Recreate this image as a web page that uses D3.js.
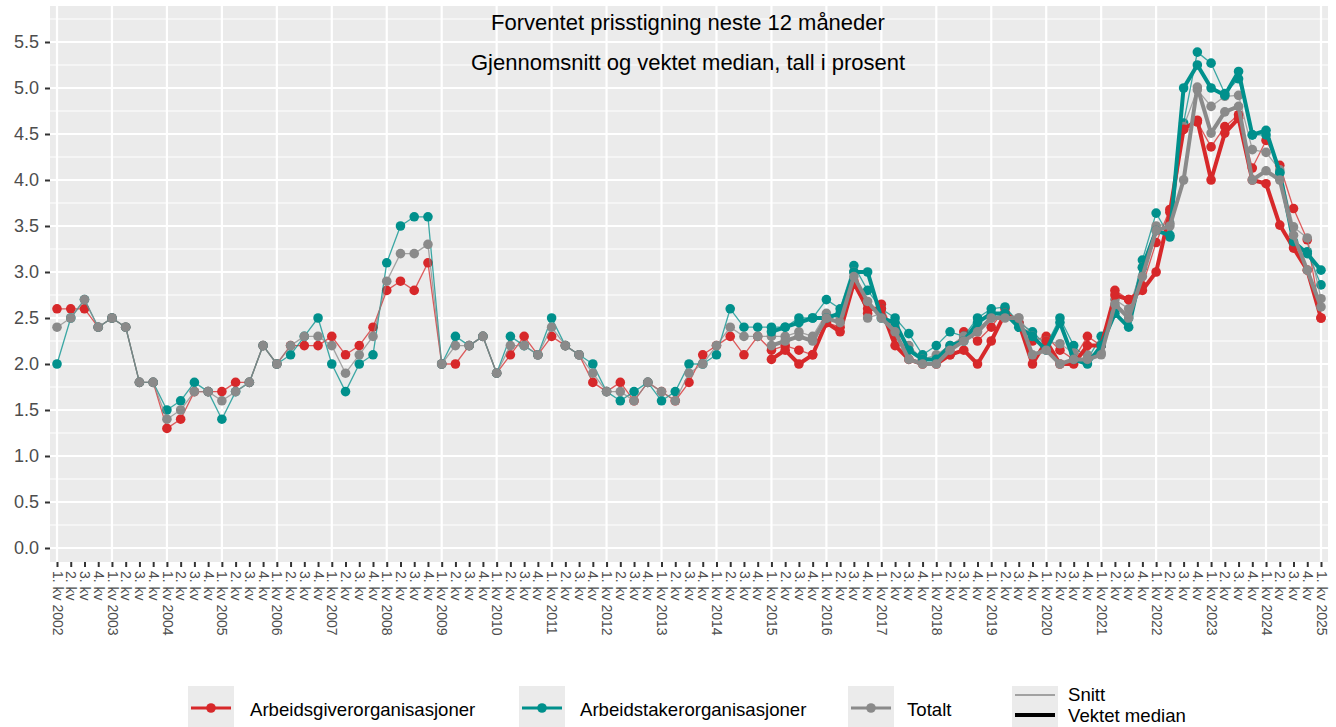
<!DOCTYPE html>
<html><head><meta charset="utf-8">
<script src="https://cdn.jsdelivr.net/npm/d3@7"></script>
<style>body{margin:0;background:#fff}svg{display:block;font-family:"Liberation Sans",Arial,sans-serif}</style>
</head><body><svg id="c" width="1336" height="727"></svg>
<script>
const years = d3.range(2002, 2026);
const quarters = [];
years.forEach(y => { for (let q = 1; q <= 4; q++) { if (y === 2025 && q > 1) break; quarters.push({y, q}); } });
const qLabels = quarters.map(d => d.q === 1 ? `${d.q}. kv ${d.y}` : `${d.q}. kv`);

// Snitt (average)
const snittArbeidsgiver = [2.6,2.6,2.6,2.4,2.5,2.4,1.8,1.8, 1.3,1.4,1.7,1.7,1.7,1.8,1.8,2.2, 2.0,2.2,2.2,2.2,2.3,2.1,2.2,2.4,
 2.8,2.9,2.8,3.1,2.0,2.0,2.2,2.3, 1.9,2.1,2.3,2.1,2.3,2.2,2.1,1.8, 1.7,1.8,1.6,1.8,1.7,1.6,1.8,2.1, 2.2,2.3,2.1,2.3,
 2.15,2.2,2.15,2.1,2.45,2.4,2.9,2.55, 2.65,2.3,2.15,2.05,2.05,2.1,2.35,2.25, 2.4,2.6,2.45,2.25,2.3,2.15,2.05,2.3,
 2.2,2.8,2.7,2.85,3.32,3.68,4.55,4.63, 4.36,4.58,4.71,4.13,4.43,4.16,3.69,3.35,2.5];
const snittArbeidstaker = [2.0,2.5,2.7,2.4,2.5,2.4,1.8,1.8, 1.5,1.6,1.8,1.7,1.4,1.7,1.8,2.2, 2.0,2.1,2.3,2.5,2.0,1.7,2.0,2.1,
 3.1,3.5,3.6,3.6,2.0,2.3,2.2,2.3, 1.9,2.3,2.2,2.1,2.5,2.2,2.1,2.0, 1.7,1.6,1.7,1.8,1.6,1.7,2.0,2.0, 2.1,2.6,2.4,2.4,
 2.4,2.4,2.5,2.5,2.7,2.6,3.07,2.8, 2.6,2.5,2.33,2.1,2.2,2.35,2.3,2.5, 2.6,2.62,2.45,2.35,2.2,2.5,2.2,2.05,
 2.3,2.62,2.5,3.13,3.64,3.38,4.62,5.39, 5.27,4.94,5.1,4.49,4.49,4.08,3.31,3.22,2.86];
const snittTotalt = [2.4,2.5,2.7,2.4,2.5,2.4,1.8,1.8, 1.4,1.5,1.7,1.7,1.6,1.7,1.8,2.2, 2.0,2.2,2.3,2.3,2.2,1.9,2.1,2.3,
 2.9,3.2,3.2,3.3,2.0,2.2,2.2,2.3, 1.9,2.2,2.2,2.1,2.4,2.2,2.1,1.9, 1.7,1.7,1.6,1.8,1.7,1.6,1.9,2.0, 2.2,2.4,2.3,2.3,
 2.3,2.3,2.35,2.3,2.55,2.5,3.0,2.5, 2.55,2.4,2.2,2.05,2.1,2.2,2.3,2.38, 2.5,2.55,2.5,2.3,2.25,2.22,2.12,2.1,
 2.12,2.7,2.6,3.05,3.5,3.53,4.58,4.98, 4.8,4.91,4.92,4.33,4.3,4.11,3.49,3.37,2.71];

// Vektet median (weighted median), from 1. kv 2015
const medianStart = 52;
const medianArbeidsgiver = [2.05,2.15,2.0,2.1,2.45,2.35,2.88,2.6, 2.6,2.2,2.05,2.0,2.0,2.1,2.15,2.0, 2.25,2.55,2.45,2.0,2.25,2.0,2.0,2.2,
 2.2,2.75,2.7,2.8,3.0,3.65,4.55,4.65, 4.0,4.51,4.67,4.0,3.96,3.51,3.26,3.02,2.5];
const medianArbeidstaker = [2.35,2.4,2.45,2.5,2.5,2.55,3.0,3.0, 2.5,2.45,2.15,2.05,2.05,2.2,2.25,2.45, 2.55,2.55,2.4,2.3,2.15,2.45,2.05,2.0,
 2.2,2.55,2.4,3.05,3.45,3.4,5.0,5.25, 5.0,4.92,5.18,4.49,4.54,4.08,3.33,3.2,3.02];
const medianTotalt = [2.2,2.25,2.3,2.25,2.5,2.45,2.95,2.68, 2.5,2.35,2.05,2.0,2.0,2.15,2.25,2.35, 2.5,2.5,2.5,2.1,2.15,2.0,2.05,2.05,
 2.1,2.65,2.5,2.95,3.45,3.5,4.0,5.01, 4.51,4.74,4.8,4.0,4.1,4.0,3.4,3.02,2.62];

const seriesNames = ["Arbeidsgiverorganisasjoner","Arbeidstakerorganisasjoner","Totalt"];
const seriesColors = ["#d7282a","#00908c","#8a8a8a"];
const yTicks = [0,0.5,1,1.5,2,2.5,3,3.5,4,4.5,5,5.5];
const titleLines = ["Forventet prisstigning neste 12 måneder","Gjennomsnitt og vektet median, tall i prosent"];

const svg = d3.select("#c");
const P = {l:50, r:1328, t:6, b:562};
const x = d3.scalePoint().domain(d3.range(quarters.length)).range([57, 1321]);
const y = d3.scaleLinear().domain([0, 5.5]).range([548, 42]);

svg.append("rect").attr("x",P.l).attr("y",P.t).attr("width",P.r-P.l).attr("height",P.b-P.t).attr("fill","#ebebeb");
// minor grid
const minor = d3.range(0.25, 5.9, 0.5);
svg.append("g").selectAll("line").data(minor).join("line")
  .attr("x1",P.l).attr("x2",P.r).attr("y1",d=>y(d)).attr("y2",d=>y(d)).attr("stroke","#fff").attr("stroke-width",1);
svg.append("g").selectAll("line").data(yTicks).join("line")
  .attr("x1",P.l).attr("x2",P.r).attr("y1",d=>y(d)).attr("y2",d=>y(d)).attr("stroke","#fff").attr("stroke-width",2.2);
const yearIdx = quarters.map((d,i)=>d.q===1?i:-1).filter(i=>i>=0);
svg.append("g").selectAll("line").data(yearIdx).join("line")
  .attr("x1",d=>x(d)).attr("x2",d=>x(d)).attr("y1",P.t).attr("y2",P.b).attr("stroke","#fff").attr("stroke-width",2.2);

// axes
const yAxis = d3.axisLeft(y).tickValues(yTicks).tickFormat(d3.format(".1f")).tickSize(5).tickPadding(6);
const ga = svg.append("g").attr("transform",`translate(${P.l},0)`).call(yAxis);
ga.select(".domain").remove();
ga.selectAll("line").attr("stroke","#333").attr("stroke-width",2);
ga.selectAll("text").attr("fill","#4d4d4d").style("font-size","18px").style("font-family","Liberation Sans, Arial");

const xAxis = d3.axisBottom(x).tickFormat(i=>qLabels[i]).tickSize(5).tickPadding(4);
const gx = svg.append("g").attr("transform",`translate(0,${P.b})`).call(xAxis);
gx.select(".domain").remove();
gx.selectAll("line").attr("stroke","#333").attr("stroke-width",2);
gx.selectAll("text").attr("fill","#4d4d4d").style("font-size","14px").style("font-family","Liberation Sans, Arial")
  .attr("transform","rotate(90)").attr("text-anchor","start").attr("dy","0.35em").attr("y",0).attr("x",9);

// series
const snitt = [snittArbeidsgiver, snittArbeidstaker, snittTotalt];
const median = [medianArbeidsgiver, medianArbeidstaker, medianTotalt];
const line = d3.line().x(d=>x(d.i)).y(d=>y(d.v));
function draw(arrs, offset, width, opacity) {
  arrs.forEach((arr, s) => {
    const pts = arr.map((v,k)=>({i:k+offset, v}));
    const g = svg.append("g");
    g.append("path").datum(pts).attr("d",line).attr("fill","none").attr("stroke",seriesColors[s])
      .attr("stroke-width",width).attr("stroke-opacity",opacity).attr("stroke-linejoin","round");
    g.selectAll("circle").data(pts).join("circle").attr("cx",d=>x(d.i)).attr("cy",d=>y(d.v)).attr("r",4.8).attr("fill",seriesColors[s]);
  });
}
draw(snitt, 0, 1.3, 0.75);
draw(median, medianStart, 4, 1);

// title
svg.append("g").selectAll("text").data(titleLines).join("text")
  .attr("x",688).attr("y",(d,i)=>22+i*40).attr("dy","0.35em").attr("text-anchor","middle")
  .style("font-size","22px").attr("fill","#000").text(d=>d);

// legend
const lg = svg.append("g");
const keyX = [188, 519, 848];
const textX = [250, 580, 907];
seriesNames.forEach((n,i)=>{
  lg.append("rect").attr("x",keyX[i]).attr("y",686).attr("width",46).attr("height",41).attr("fill","#ebebeb");
  lg.append("line").attr("x1",keyX[i]+3).attr("x2",keyX[i]+43).attr("y1",708).attr("y2",708).attr("stroke",seriesColors[i]).attr("stroke-width",3);
  lg.append("circle").attr("cx",keyX[i]+23).attr("cy",708).attr("r",4.8).attr("fill",seriesColors[i]);
  lg.append("text").attr("x",textX[i]).attr("y",709).attr("dy","0.35em").style("font-size","18.6px").attr("fill","#000").text(n);
});
lg.append("rect").attr("x",1012).attr("y",686).attr("width",46).attr("height",41).attr("fill","#ebebeb");
lg.append("line").attr("x1",1015).attr("x2",1055).attr("y1",695).attr("y2",695).attr("stroke","#888").attr("stroke-width",1.5);
lg.append("line").attr("x1",1015).attr("x2",1055).attr("y1",715).attr("y2",715).attr("stroke","#000").attr("stroke-width",4);
lg.append("text").attr("x",1068).attr("y",694).attr("dy","0.35em").style("font-size","18.6px").text("Snitt");
lg.append("text").attr("x",1068).attr("y",715).attr("dy","0.35em").style("font-size","18.6px").text("Vektet median");
</script></body></html>
